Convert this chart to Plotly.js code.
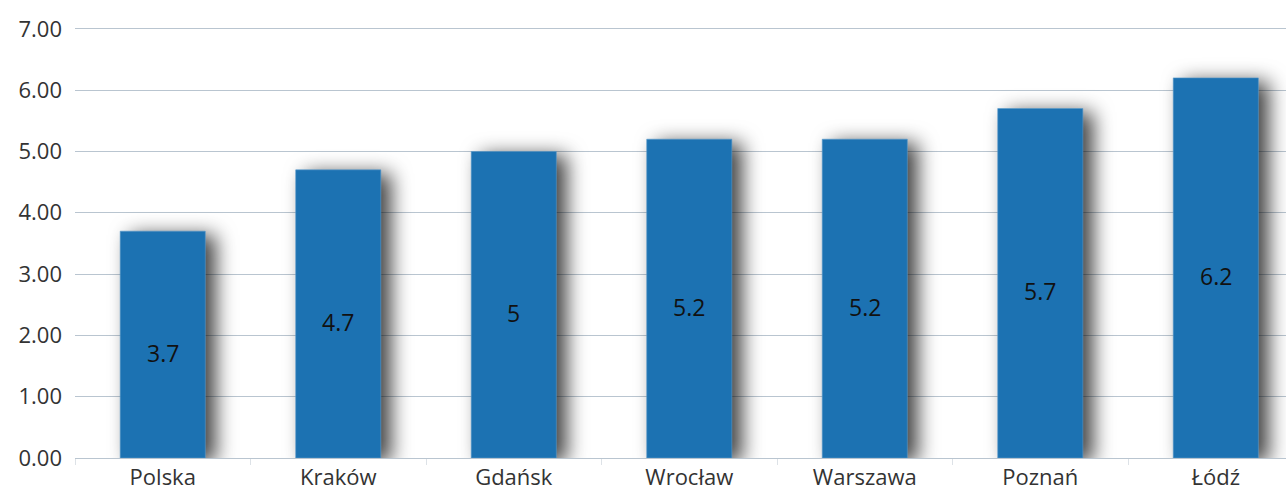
<!DOCTYPE html>
<html>
<head>
<meta charset="utf-8">
<script src="https://cdn.plot.ly/plotly-3.0.1.min.js"></script>
<style>
  body { margin: 0; background: #fff; }
  #chart { width: 1286px; height: 492px; }
  /* soft shadow behind the bars, like the original */
  .barlayer .point path { filter: drop-shadow(10px 4px 10px rgba(0,0,0,0.75)); }
</style>
</head>
<body>
<div id="chart"></div>
<script>
const cities = ['Polska', 'Kraków', 'Gdańsk', 'Wrocław', 'Warszawa', 'Poznań', 'Łódź'];
const values = [3.7, 4.7, 5, 5.2, 5.2, 5.7, 6.2];
const yTicks = [0, 1, 2, 3, 4, 5, 6, 7];

const trace = {
    type: 'bar',
    x: cities,
    y: values,
    marker: { color: '#1c72b2', line: { color: '#5b9acb', width: 0.6 } },
    hoverinfo: 'none'
};

// value labels sit a little below the middle of each bar
const labels = cities.map((c, i) => ({
    x: c,
    y: values[i] / 2,
    text: String(values[i]),
    showarrow: false,
    yshift: -8,
    font: { family: 'Open Sans', size: 23, color: '#111' }
}));

const layout = {
    width: 1286,
    height: 492,
    margin: { l: 75, r: 0, t: 27, b: 34 },
    paper_bgcolor: '#fff',
    plot_bgcolor: '#fff',
    bargap: 0.515,
    showlegend: false,
    annotations: labels,
    font: { family: 'Open Sans', size: 22, color: '#333' },
    xaxis: {
        range: [-0.5, 6.4],
        showgrid: false,
        showline: true,
        linecolor: '#b9c5d0',
        linewidth: 1,
        ticks: 'outside',
        tickson: 'boundaries',
        ticklen: 6,
        tickcolor: '#dde2e7',
        tickfont: { family: 'Open Sans', size: 22, color: '#333' }
    },
    yaxis: {
        range: [0, 7.03],
        tickvals: yTicks,
        tickformat: '.2f',
        showgrid: true,
        gridcolor: '#b9c5d0',
        gridwidth: 1,
        zeroline: false,
        ticks: '',
        ticklabelstandoff: 12,
        tickfont: { family: 'Open Sans', size: 22, color: '#333' }
    }
};

Plotly.newPlot('chart', [trace], layout, { displayModeBar: false, staticPlot: true });
</script>
</body>
</html>
